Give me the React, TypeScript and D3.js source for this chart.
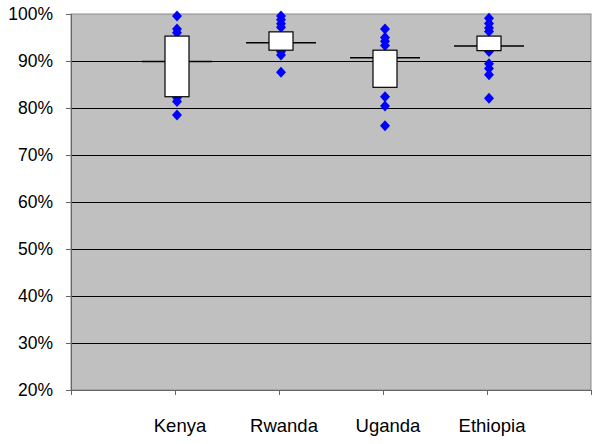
import React, { useEffect, useRef } from 'react';
import * as d3 from 'd3';

const categories = ['Kenya', 'Rwanda', 'Uganda', 'Ethiopia'];
const boxLow = [82.4, 92.3, 84.4, 92.2];
const boxHigh = [95.3, 96.2, 92.3, 95.3];
const medians = [89.9, 93.9, 90.7, 93.2];
const kenyaPoints = [99.6, 96.8, 96.0, 82.2, 81.4, 78.5];
const rwandaPoints = [99.6, 98.8, 97.9, 97.2, 92.0, 91.3, 87.6];
const ugandaPoints = [96.8, 95.0, 94.2, 93.3, 82.4, 80.4, 76.2];
const ethiopiaPoints = [99.1, 98.0, 97.0, 96.3, 92.0, 89.4, 88.4, 87.1, 82.1];
const yTicks = [20, 30, 40, 50, 60, 70, 80, 90, 100];

const pointSets = [kenyaPoints, rwandaPoints, ugandaPoints, ethiopiaPoints];

const App: React.FC = () => {
  const svgRef = useRef<SVGSVGElement>(null);

  useEffect(() => {
    if (!svgRef.current) return;
    const svg = d3.select(svgRef.current);
    svg.selectAll('*').remove();

    const width = 600;
    const height = 444;
    const margin = { top: 14, right: 9, bottom: 54, left: 71 };
    const innerWidth = width - margin.left - margin.right;
    const innerHeight = height - margin.top - margin.bottom;
    const font = "'Liberation Sans', Arial, sans-serif";

    // category slots: 0 and 5 are the empty ends, categories sit on ticks 1..4
    const x = d3.scaleLinear().domain([0, categories.length + 1]).range([0, innerWidth]);
    const y = d3.scaleLinear().domain([20, 100]).range([innerHeight, 0]);

    const g = svg.append('g').attr('transform', `translate(${margin.left},${margin.top})`);

    g.append('rect')
      .attr('x', 0)
      .attr('y', 0)
      .attr('width', innerWidth)
      .attr('height', innerHeight)
      .attr('fill', '#c0c0c0')
      .attr('stroke', '#8a8a8a')
      .attr('stroke-width', 1);

    // gridlines
    g.selectAll('line.grid')
      .data(yTicks.filter(t => t > 20 && t < 100))
      .enter()
      .append('line')
      .attr('class', 'grid')
      .attr('x1', 0)
      .attr('x2', innerWidth)
      .attr('y1', d => Math.round(y(d)) + 0.5)
      .attr('y2', d => Math.round(y(d)) + 0.5)
      .attr('stroke', '#000')
      .attr('stroke-width', 1);

    // y axis
    const yAxis = g.append('g')
      .call(d3.axisLeft(y).tickValues(yTicks).tickSize(5).tickPadding(13).tickFormat(d => `${d}%`));
    yAxis.select('.domain').attr('stroke', '#666');
    yAxis.selectAll('.tick line').attr('stroke', '#666');
    yAxis.selectAll('text')
      .attr('font-family', font)
      .attr('font-size', 17.5)
      .attr('fill', '#000');

    // x axis
    const xAxis = g.append('g')
      .attr('transform', `translate(0,${innerHeight})`)
      .call(
        d3.axisBottom(x)
          .tickValues(d3.range(0, categories.length + 2))
          .tickSize(5)
          .tickSizeOuter(0)
          .tickFormat(() => '')
      );
    xAxis.select('.domain').attr('stroke', '#666');
    xAxis.selectAll('.tick line').attr('stroke', '#666');

    g.selectAll('text.cat')
      .data(categories)
      .enter()
      .append('text')
      .attr('class', 'cat')
      .attr('x', (_, i) => x(i + 1) + 5)
      .attr('y', innerHeight + 42)
      .attr('text-anchor', 'middle')
      .attr('font-family', font)
      .attr('font-size', 18.5)
      .attr('fill', '#000')
      .text(d => d);

    const boxW = 24;
    const lineW = 70;
    const cx = (i: number) => x(i + 1) + 2;

    categories.forEach((_, i) => {
      const c = cx(i);
      // median line
      g.append('line')
        .attr('x1', c - lineW / 2)
        .attr('x2', c + lineW / 2)
        .attr('y1', y(medians[i]))
        .attr('y2', y(medians[i]))
        .attr('stroke', '#000')
        .attr('stroke-width', 1.5);

      // points
      g.selectAll(`path.pt${i}`)
        .data(pointSets[i])
        .enter()
        .append('path')
        .attr('class', `pt${i}`)
        .attr('d', 'M0,-5.5L5,0L0,5.5L-5,0Z')
        .attr('transform', d => `translate(${c},${y(d)})`)
        .attr('fill', '#0000ff');

      // box
      g.append('rect')
        .attr('x', c - boxW / 2)
        .attr('y', y(boxHigh[i]))
        .attr('width', boxW)
        .attr('height', y(boxLow[i]) - y(boxHigh[i]))
        .attr('fill', '#fff')
        .attr('stroke', '#000')
        .attr('stroke-width', 1.2);
    });
  }, []);

  return (
    <svg
      ref={svgRef}
      width={600}
      height={444}
      style={{ position: 'absolute', left: 0, top: 0, background: '#fff' }}
    />
  );
};

export default App;
